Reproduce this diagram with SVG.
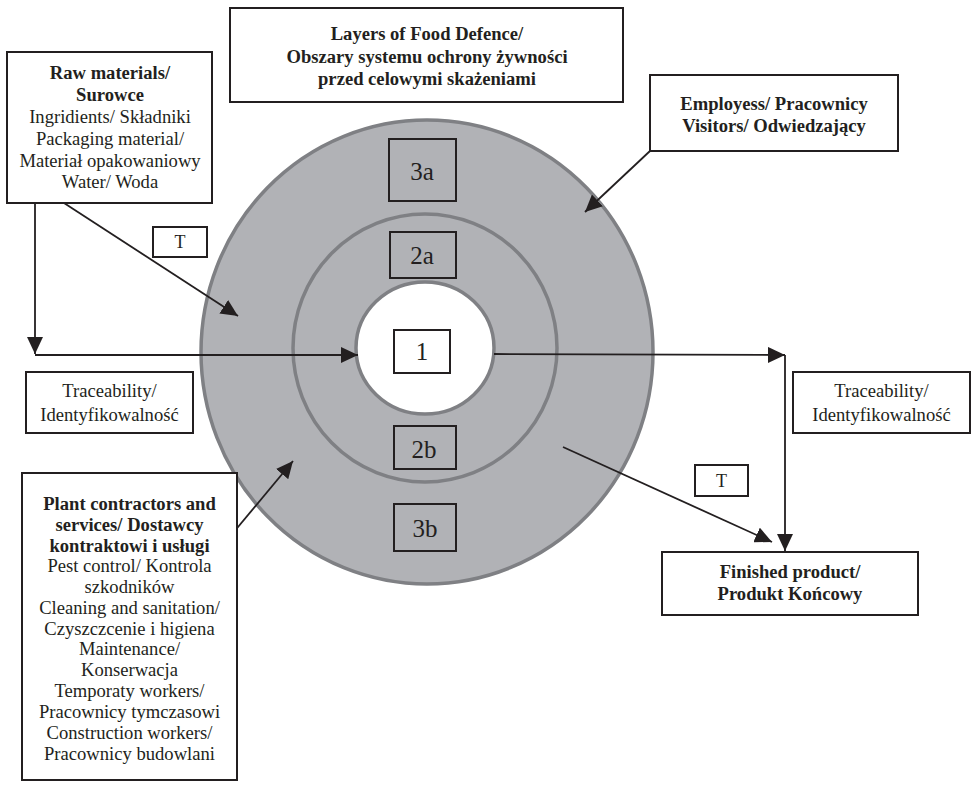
<svg xmlns="http://www.w3.org/2000/svg" width="971" height="789" viewBox="0 0 971 789">
  <style>
    .box { fill: #ffffff; stroke: #231f20; stroke-width: 2; }
    .gbox { fill: #b1b2b6; stroke: #231f20; stroke-width: 2; }
    .ring { fill: #b1b2b6; stroke: #7f8084; stroke-width: 3.5; }
    .core { fill: #ffffff; stroke: #7f8084; stroke-width: 3.5; }
    text { font-family: "Liberation Serif", "Times New Roman", serif; fill: #231f20; text-anchor: middle; }
    .t { font-size: 18.6px; }
    .b { font-size: 18.6px; font-weight: bold; }
    .n { font-size: 25px; }
    .lbl { font-size: 18px; }
    .wire { fill: none; stroke: #231f20; stroke-width: 1.8; }
  </style>
  <defs>
    <marker id="arrow" markerUnits="userSpaceOnUse" markerWidth="18" markerHeight="16" refX="17" refY="8" orient="auto">
      <path d="M0,0 L17,8 L0,16 z" fill="#231f20"/>
    </marker>
  </defs>

  <!-- concentric layers -->
  <g id="layers">
    <ellipse class="ring" cx="427" cy="352" rx="226" ry="232"/>
    <ellipse class="ring" cx="425" cy="348" rx="132" ry="134"/>
    <ellipse class="core" cx="425" cy="348" rx="69" ry="66"/>
  </g>

  <!-- connectors -->
  <g id="connectors">
    <line class="wire" x1="35" y1="203" x2="35" y2="354" marker-end="url(#arrow)"/>
    <line class="wire" x1="35" y1="355" x2="358" y2="355" marker-end="url(#arrow)"/>
    <line class="wire" x1="64" y1="203" x2="238" y2="316" marker-end="url(#arrow)"/>
    <line class="wire" x1="650" y1="151" x2="585" y2="212" marker-end="url(#arrow)"/>
    <line class="wire" x1="233" y1="533" x2="293" y2="461" marker-end="url(#arrow)"/>
    <line class="wire" x1="494" y1="354" x2="785" y2="355" marker-end="url(#arrow)"/>
    <line class="wire" x1="785" y1="355" x2="785" y2="551" marker-end="url(#arrow)"/>
    <line class="wire" x1="563" y1="447" x2="772" y2="542" marker-end="url(#arrow)"/>
  </g>

  <g id="node-3a">
    <rect class="gbox" x="389" y="139" width="67" height="62"/>
    <text class="n" x="422" y="180">3a</text>
  </g>
  <g id="node-2a">
    <rect class="gbox" x="390" y="232" width="66" height="46"/>
    <text class="n" x="422" y="264">2a</text>
  </g>
  <g id="node-1">
    <rect class="box" x="394" y="330" width="56" height="43"/>
    <text class="n" x="422" y="360">1</text>
  </g>
  <g id="node-2b">
    <rect class="gbox" x="394" y="426" width="62" height="43"/>
    <text class="n" x="424" y="458">2b</text>
  </g>
  <g id="node-3b">
    <rect class="gbox" x="394" y="504" width="62" height="47"/>
    <text class="n" x="425" y="537">3b</text>
  </g>

  <g id="title">
    <rect class="box" x="230" y="8" width="393" height="94"/>
    <text class="b" x="427" y="40">Layers of Food Defence/</text>
    <text class="b" x="427" y="63">Obszary systemu ochrony żywności</text>
    <text class="b" x="427" y="85">przed celowymi skażeniami</text>
  </g>

  <g id="raw-materials">
    <rect class="box" x="7" y="52" width="205" height="151"/>
    <text class="b" x="110" y="79">Raw materials/</text>
    <text class="b" x="110" y="101">Surowce</text>
    <text class="t" x="110" y="123">Ingridients/ Składniki</text>
    <text class="t" x="110" y="145">Packaging material/</text>
    <text class="t" x="110" y="167">Materiał opakowaniowy</text>
    <text class="t" x="110" y="188">Water/ Woda</text>
  </g>

  <g id="employees">
    <rect class="box" x="650" y="75" width="248" height="76"/>
    <text class="b" x="774" y="110">Employess/ Pracownicy</text>
    <text class="b" x="774" y="132">Visitors/ Odwiedzający</text>
  </g>

  <g id="t-left">
    <rect class="box" x="153" y="227" width="54" height="30"/>
    <text class="lbl" x="180" y="248">T</text>
  </g>

  <g id="traceability-left">
    <rect class="box" x="26" y="372" width="167" height="61"/>
    <text class="t" x="109.5" y="397">Traceability/</text>
    <text class="t" x="109.5" y="421">Identyfikowalność</text>
  </g>

  <g id="traceability-right">
    <rect class="box" x="793" y="372" width="177" height="61"/>
    <text class="t" x="881.5" y="397">Traceability/</text>
    <text class="t" x="881.5" y="421">Identyfikowalność</text>
  </g>

  <g id="t-right">
    <rect class="box" x="695" y="465" width="53" height="31"/>
    <text class="lbl" x="721.5" y="487">T</text>
  </g>

  <g id="finished-product">
    <rect class="box" x="662" y="552" width="256" height="63"/>
    <text class="b" x="790" y="578">Finished product/</text>
    <text class="b" x="790" y="600">Produkt Końcowy</text>
  </g>

  <g id="plant-contractors">
    <rect class="box" x="22" y="473" width="215" height="307"/>
    <text class="b" x="129.5" y="510">Plant contractors and</text>
    <text class="b" x="129.5" y="531">services/ Dostawcy</text>
    <text class="b" x="129.5" y="552">kontraktowi i usługi</text>
    <text class="t" x="129.5" y="572">Pest control/ Kontrola</text>
    <text class="t" x="129.5" y="593">szkodników</text>
    <text class="t" x="129.5" y="614">Cleaning and sanitation/</text>
    <text class="t" x="129.5" y="635">Czyszczcenie i higiena</text>
    <text class="t" x="129.5" y="655">Maintenance/</text>
    <text class="t" x="129.5" y="676">Konserwacja</text>
    <text class="t" x="129.5" y="697">Temporaty workers/</text>
    <text class="t" x="129.5" y="718">Pracownicy tymczasowi</text>
    <text class="t" x="129.5" y="739">Construction workers/</text>
    <text class="t" x="129.5" y="760">Pracownicy budowlani</text>
  </g>
</svg>
